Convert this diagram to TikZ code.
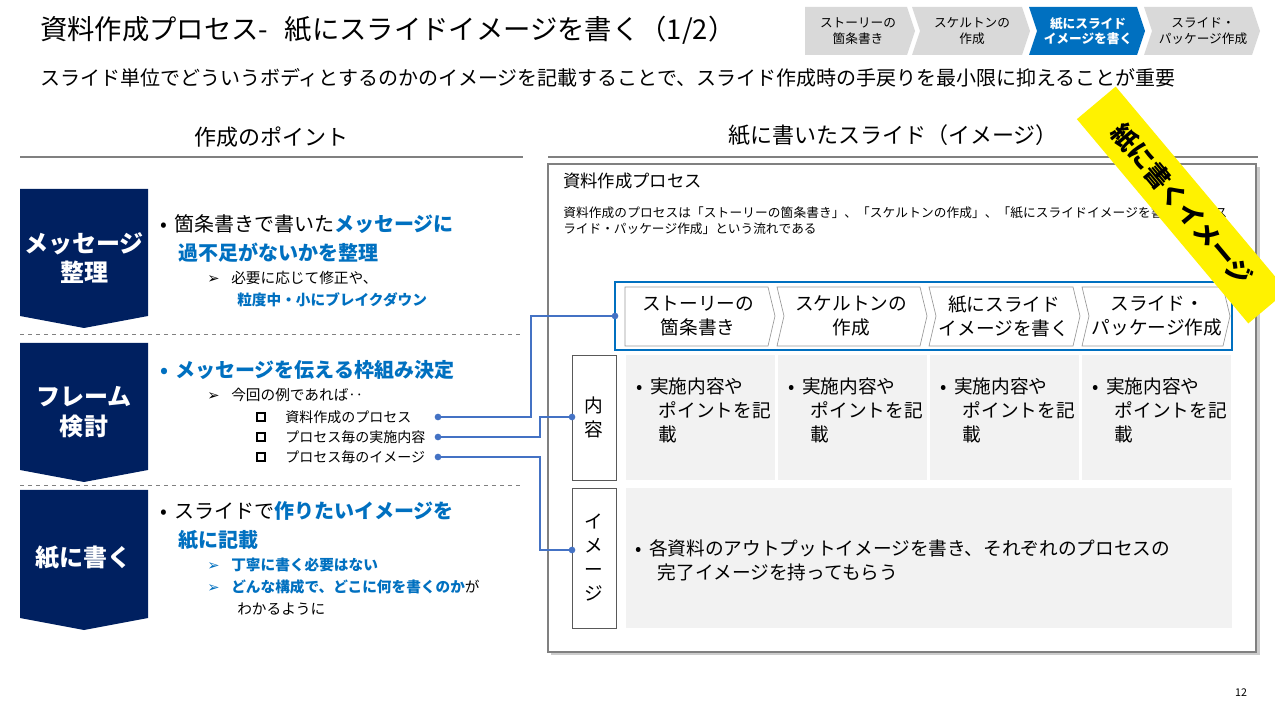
\documentclass[tikz,border=0pt]{standalone}
\usepackage{fontspec}
\setmainfont{Noto Sans CJK JP}
\newfontfamily\symf{DejaVu Sans}
\XeTeXlinebreaklocale "ja"
\XeTeXlinebreakskip=0pt plus 1pt
\usetikzlibrary{shapes.geometric}
\definecolor{navy}{HTML}{002060}
\definecolor{tblue}{HTML}{0070C0}
\definecolor{lblue}{HTML}{4472C4}
\definecolor{cgray}{HTML}{D9D9D9}
\definecolor{cellg}{HTML}{F2F2F2}
\newcommand{\bl}[1]{{\color{tblue}\bfseries #1}}
\newcommand{\arr}{{\symf\char"27A2}}
\begin{document}
\begin{tikzpicture}[x=0.75pt,y=-0.75pt,
  txt/.style={inner sep=0pt,anchor=west,align=left},
  navyblk/.style={fill=navy,draw=none},
  blk/.style={text=white,font=\fontsize{18}{22}\selectfont\bfseries,align=center},
  conn/.style={draw=lblue,line width=0.9pt},
  dot/.style={circle,fill=lblue,inner sep=0pt,minimum size=5pt},
  topchev/.style={fill=cgray,draw=none},
  inchev/.style={fill=white,draw=gray!80,line width=0.5pt},
  cell/.style={fill=cellg,draw=none},
  lbox/.style={draw=gray!70!black,line width=0.6pt,fill=white}]
\useasboundingbox (0,0) rectangle (1275,716);
\fill[white] (0,0) rectangle (1275,716);
% title
\node[txt] (title) at (40,30) {\fontsize{20.5}{24}\selectfont 資料作成プロセス-\hspace{0.6em}紙にスライドイメージを書く（1/2）};
\node[txt] (sub) at (40,78) {\fontsize{15}{19}\selectfont スライド単位でどういうボディとするのかのイメージを記載することで、スライド作成時の手戻りを最小限に抑えることが重要};
% top chevrons
\fill[topchev] (805,7) -- (907,7) -- (915,31) -- (907,55) -- (805,55) -- cycle;
\fill[topchev] (912,7) -- (1022,7) -- (1030,31) -- (1022,55) -- (912,55) -- (920,31) -- cycle;
\fill[tblue] (1029,7) -- (1137,7) -- (1145,31) -- (1137,55) -- (1029,55) -- (1037,31) -- cycle;
\fill[topchev] (1144,7) -- (1252,7) -- (1260,31) -- (1252,55) -- (1144,55) -- (1152,31) -- cycle;
\node[align=center,font=\fontsize{9.5}{11.5}\selectfont] (c1) at (858,31) {ストーリーの\\箇条書き};
\node[align=center,font=\fontsize{9.5}{11.5}\selectfont] (c2) at (972,31) {スケルトンの\\作成};
\node[align=center,text=white,font=\fontsize{9.5}{11.5}\selectfont\bfseries] (c3) at (1088,31) {紙にスライド\\イメージを書く};
\node[align=center,font=\fontsize{9.5}{11.5}\selectfont] (c4) at (1203,31) {スライド・\\パッケージ作成};
% section headers
\node (h1) at (271,137) {\fontsize{16.5}{20}\selectfont 作成のポイント};
\draw[gray,line width=0.8pt] (20,157) -- (523,157);
\node (h2) at (893,135) {\fontsize{16.5}{20}\selectfont 紙に書いたスライド（イメージ）};
\draw[gray,line width=0.8pt] (548,157) -- (1258,157);
% left navy blocks
\foreach \a/\b in {189/328,343/482,490/630}{
  \fill[navyblk] (20,\a) -- (148,\a) -- ({148},{\b-12}) -- (84,\b) -- (20,{\b-12}) -- cycle;}
\node[blk] (b1) at (84,258) {メッセージ\\整理};
\node[blk] (b2) at (84,412) {フレーム\\検討};
\node[blk] (b3) at (84,558) {紙に書く};
\draw[gray,dashed,line width=0.6pt] (20,334) -- (523,334);
\draw[gray,dashed,line width=0.6pt] (20,485) -- (523,485);
% block1 text
\def\big{\fontsize{15}{18}\selectfont}
\def\sml{\fontsize{11}{13}\selectfont}
\node[txt] (t11) at (160,224) {\big •\hspace{0.35em}箇条書きで書いた\bl{メッセージに}};
\node[txt] (t12) at (178,253) {\big\bl{過不足がないかを整理}};
\node[txt] (t13) at (207,278) {\sml\arr\hspace{0.8em}必要に応じて修正や、};
\node[txt] (t14) at (237,300) {\sml\bl{粒度中・小にブレイクダウン}};
% block2
\node[txt] (t21) at (160,370) {\big\bl{•\hspace{0.35em}メッセージを伝える枠組み決定}};
\node[txt] (t22) at (207,395) {\sml\arr\hspace{0.8em}今回の例であれば‥};
\foreach \y/\t/\n in {417/資料作成のプロセス/p1,437/プロセス毎の実施内容/p2,457/プロセス毎のイメージ/p3}{
  \draw[black,line width=1.3pt] (257,{\y-4}) rectangle (265,{\y+4});
  \node[txt] (\n) at (285,\y) {\fontsize{10.5}{12}\selectfont \t};}
% block3
\node[txt] (t31) at (160,511) {\big •\hspace{0.35em}スライドで\bl{作りたいイメージを}};
\node[txt] (t32) at (178,540) {\big\bl{紙に記載}};
\node[txt] (t33) at (207,565) {\sml{\color{tblue}\arr}\hspace{0.8em}\bl{丁寧に書く必要はない}};
\node[txt] (t34) at (207,587) {\sml{\color{tblue}\arr}\hspace{0.8em}\bl{どんな構成で、どこに何を書くのか}が};
\node[txt] (t35) at (237,609) {\sml わかるように};
% right frame
\fill[gray!40] (551,167) rectangle (1260,655);
\draw[gray,line width=0.8pt,fill=white] (548,164) rectangle (1256,652);
\node[txt] (rt) at (563,181) {\fontsize{13}{16}\selectfont 資料作成プロセス};
\node[txt,anchor=north west,text width=500pt] (rd) at (563,207) {\fontsize{9.5}{12}\selectfont 資料作成のプロセスは「ストーリーの箇条書き」、「スケルトンの作成」、「紙にスライドイメージを書く」、「スライド・パッケージ作成」という流れである};
% process chevrons
\draw[tblue,line width=1.4pt] (615,282) rectangle (1232,350);
\draw[inchev] (625,287) -- (768,287) -- (775,316) -- (768,346) -- (625,346) -- cycle;
\draw[inchev] (777,287) -- (920,287) -- (927,316) -- (920,346) -- (777,346) -- (784,316) -- cycle;
\draw[inchev] (929,287) -- (1073,287) -- (1080,316) -- (1073,346) -- (929,346) -- (936,316) -- cycle;
\draw[inchev] (1082,287) -- (1223,287) -- (1230,316) -- (1223,346) -- (1082,346) -- (1089,316) -- cycle;
\def\mid{\fontsize{14}{18}\selectfont}
\node[align=center,font=\mid] (q1) at (698,316) {ストーリーの\\箇条書き};
\node[align=center,font=\mid] (q2) at (851,316) {スケルトンの\\作成};
\node[align=center,font=\mid] (q3) at (1004,316) {紙にスライド\\イメージを書く};
\node[align=center,font=\mid] (q4) at (1157,316) {スライド・\\パッケージ作成};
% row label boxes
\draw[lbox] (572,355) rectangle (616,480);
\draw[lbox] (572,488) rectangle (616,628);
\node[align=center,font=\mid] (naiyo) at (594,417) {内\\容};
\node[align=center,font=\mid] (imj) at (594,558) {イ\\メ\\ー\\ジ};
\foreach \x in {626,778,930,1082}{
  \fill[cell] (\x,355) rectangle ({\x+149},480);
  \node[txt,anchor=north west,font=\mid] at ({\x+10},378) {•\hspace{0.4em}実施内容や\\\hspace{1.2em}ポイントを記\\\hspace{1.2em}載};}
\fill[cell] (626,488) rectangle (1232,628);
\node[txt,font=\mid] (imt) at (635,560) {•\hspace{0.4em}各資料のアウトプットイメージを書き、それぞれのプロセスの\\\hspace{1.2em}完了イメージを持ってもらう};
% connectors
\coordinate (e1) at (615,316);
\coordinate (e2) at (572,417);
\coordinate (e3) at (572,550);
\coordinate (s1) at (438,417);
\coordinate (s2) at (438,437);
\coordinate (s3) at (438,457);
\draw[conn] (s1) -- (531,417) -- (531,316) -- (e1);
\draw[conn] (s2) -- (540,437) -- (540,417) -- (e2);
\draw[conn] (s3) -- (540,457) -- (540,550) -- (e3);
\foreach \c in {s1,s2,s3,e1,e2,e3} \node[dot] at (\c) {};
% yellow banner
\node[fill=yellow,rotate=-50,minimum width=200pt,minimum height=38pt,font=\fontsize{19}{22}\selectfont\bfseries] (ban) at (1182,205) {紙に書くイメージ};
% page number
\node (pg) at (1241,693) {\fontsize{8}{10}\selectfont 12};
\end{tikzpicture}
\end{document}
